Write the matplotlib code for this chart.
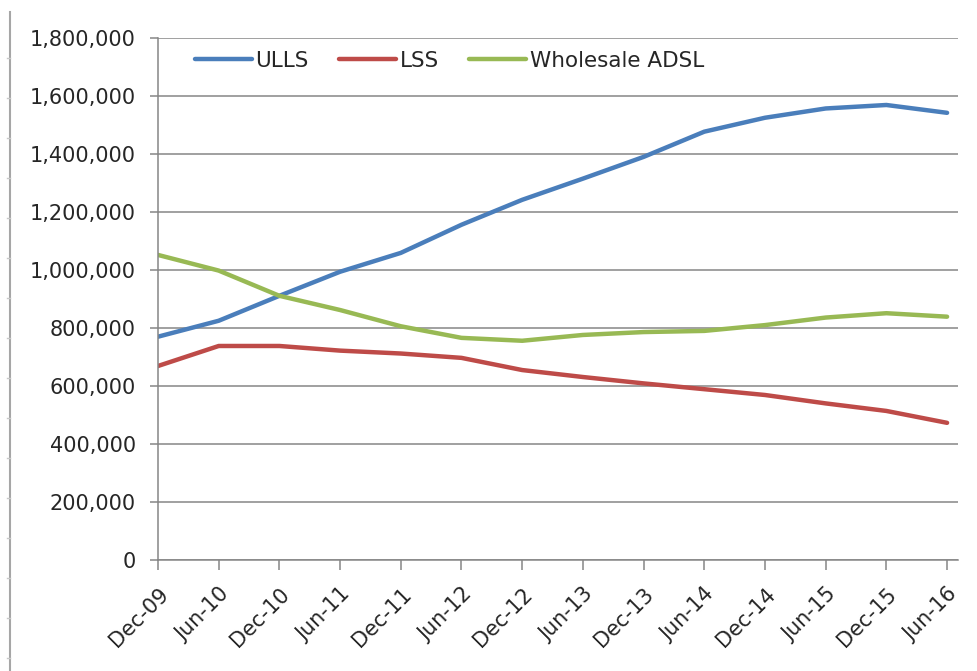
import matplotlib
matplotlib.use("Agg")
import matplotlib.pyplot as plt
from matplotlib.lines import Line2D
from matplotlib.ticker import FuncFormatter, MultipleLocator
from matplotlib.transforms import ScaledTranslation

categories = ["Dec-09", "Jun-10", "Dec-10", "Jun-11", "Dec-11", "Jun-12", "Dec-12",
              "Jun-13", "Dec-13", "Jun-14", "Dec-14", "Jun-15", "Dec-15", "Jun-16"]
ulls = [770000, 825000, 911000, 994000, 1059000, 1156000, 1242000,
        1315000, 1390000, 1477000, 1525000, 1557000, 1569000, 1542000]
lss = [669000, 738000, 738000, 722000, 712000, 697000, 655000,
       631000, 609000, 589000, 569000, 540000, 514000, 473000]
adsl = [1052000, 998000, 911000, 862000, 806000, 766000, 756000,
        776000, 786000, 790000, 810000, 836000, 851000, 839000]
series_names = ["ULLS", "LSS", "Wholesale ADSL"]

plt.rcParams['font.family'] = ['DejaVu Sans']

W, H = 978, 671
fig = plt.figure(figsize=(W / 100, H / 100), dpi=100)
ax = fig.add_axes([158 / W, 1 - 560 / H, (958 - 158) / W, (560 - 38) / H])

x = list(range(len(categories)))
colors = ["#4A7EBB", "#BE4B48", "#98B954"]
for vals, c, name in zip([ulls, lss, adsl], colors, series_names):
    ax.plot(x, vals, color=c, lw=3.2, solid_capstyle='round', solid_joinstyle='round', label=name)

ax.set_xlim(0, 13.18)
ax.set_ylim(0, 1800000)
ax.yaxis.set_major_locator(MultipleLocator(200000))
ax.yaxis.set_major_formatter(FuncFormatter(lambda v, p: f"{int(v):,}"))
ax.set_xticks(x)
ax.set_xticklabels(categories, rotation=45, ha='right', va='top', rotation_mode='anchor')
off = ScaledTranslation(4 / 100, 0, fig.dpi_scale_trans)
for lab in ax.get_xticklabels():
    lab.set_transform(lab.get_transform() + off)

gridc = "#868686"
ax.grid(axis='y', color=gridc, lw=1.1)
ax.set_axisbelow(True)
for s in ['top', 'right']:
    ax.spines[s].set_visible(False)
for s in ['left', 'bottom']:
    ax.spines[s].set_color(gridc)
    ax.spines[s].set_linewidth(1.1)
ax.tick_params(axis='y', length=6, width=1.1, color=gridc, labelsize=15, labelcolor='#262626', pad=10)
ax.tick_params(axis='x', length=7, width=1.1, color=gridc, labelsize=15, labelcolor='#262626', pad=10)

leg = ax.legend(loc='center left', bbox_to_anchor=((195 - 158) / 800, (560 - 61) / 522), ncol=3,
                frameon=False, fontsize=15.5, handlelength=2.65, handletextpad=0.15,
                columnspacing=1.42, borderpad=0, borderaxespad=0, labelcolor='#262626')

# outer border line at left
fig.add_artist(Line2D([10 / W, 10 / W], [0, 1 - 12 / H], color="#A6A6A6", lw=1.5, transform=fig.transFigure))
for yp in range(58, 671, 40):
    fig.add_artist(Line2D([7 / W, 10 / W], [1 - yp / H, 1 - yp / H], color="#C8C8C8", lw=1, transform=fig.transFigure))

fig.savefig("out.png", dpi=100)
